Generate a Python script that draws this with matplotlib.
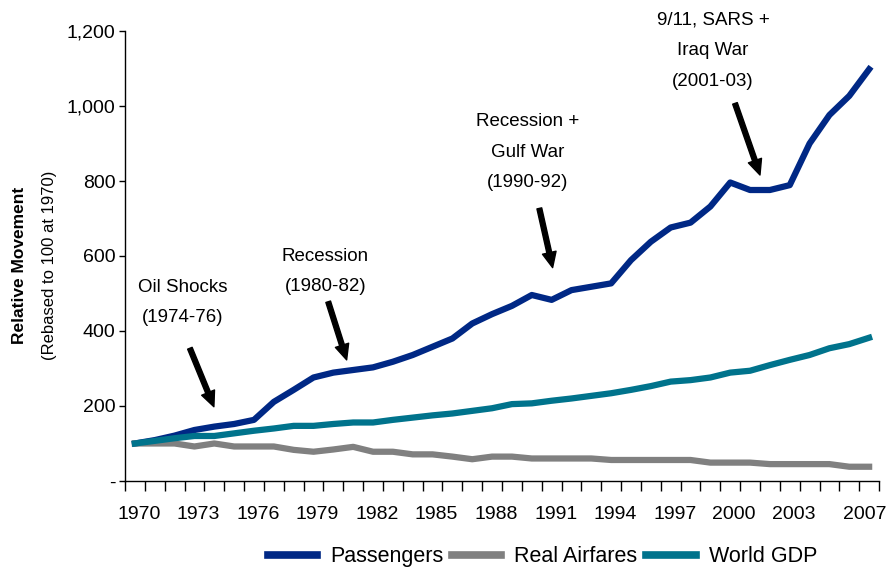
import numpy as np
import matplotlib
matplotlib.use('Agg')
import matplotlib.pyplot as plt
from matplotlib.transforms import ScaledTranslation

plt.rcParams['font.family'] = ['Liberation Sans', 'DejaVu Sans']

years = list(range(1970, 2008))
passengers = [100, 109, 121, 136, 145, 152, 163, 211, 243, 276,
              289, 296, 303, 318, 336, 358, 380, 420, 445, 467,
              496, 483, 509, 518, 527, 589, 638, 676, 689, 732,
              796, 776, 776, 789, 900, 976, 1027, 1098]
airfares = [100, 100, 100, 92, 100, 92, 92, 92, 83, 78,
            84, 91, 78, 78, 71, 71, 65, 58, 65, 65,
            60, 60, 60, 60, 56, 56, 56, 56, 56, 49,
            49, 49, 45, 45, 45, 45, 38, 38]
world_gdp = [100, 107, 114, 120, 120, 127, 134, 140, 147, 147,
             152, 156, 156, 163, 169, 175, 180, 187, 194, 205,
             207, 214, 220, 227, 234, 243, 253, 265, 269, 276,
             289, 294, 309, 323, 336, 354, 365, 382]

xtick_years = [1970, 1973, 1976, 1979, 1982, 1985, 1988, 1991, 1994, 1997, 2000, 2003, 2007]
ytick_vals = [0, 200, 400, 600, 800, 1000, 1200]
ytick_labels = ['-', '200', '400', '600', '800', '1,000', '1,200']

# (text, text x, text y, arrow tail, arrow head)
events = [
    ('Oil Shocks\n(1974-76)', 1972.42, 476, (1972.77, 354), (1973.98, 198)),
    ('Recession\n(1980-82)', 1979.6, 559, (1979.74, 478), (1980.67, 323)),
    ('Recession +\nGulf War\n(1990-92)', 1989.81, 877, (1990.38, 727), (1991.05, 569)),
    ('9/11, SARS +\nIraq War\n(2001-03)', 1999.13, 1147, (2000.24, 1007), (2001.5, 816)),
]

fig = plt.figure(figsize=(8.89, 5.68), dpi=100)
ax = fig.add_axes([0.1406, 0.1532, 0.8482, 0.7922])

ax.plot(years, passengers, color='#002885', lw=4.5, label='Passengers')
ax.plot(years, airfares, color='#808080', lw=4.5, label='Real Airfares')
ax.plot(years, world_gdp, color='#00738C', lw=4.5, label='World GDP')

ax.set_xlim(1969.5, 2007.5)
ax.set_ylim(0, 1200)
ax.set_yticks(ytick_vals)
ax.set_yticklabels(ytick_labels, fontsize=14)
ax.set_xticks(xtick_years)
ax.set_xticklabels([str(y) for y in xtick_years], fontsize=14)
ax.set_xticks(np.arange(1969.5, 2008.0, 1.0), minor=True)
ax.tick_params(axis='x', which='major', length=0, pad=18)
ax.tick_params(axis='x', which='minor', length=7, width=1, direction='out')
ax.tick_params(axis='y', length=4, width=1, pad=3)

# labels sit a little right of the category centre, except the last one
labels = ax.get_xticklabels()
for i, lab in enumerate(labels):
    dx = -4 if i == len(labels) - 1 else 4
    lab.set_transform(lab.get_transform() + ScaledTranslation(dx / 100, 0, fig.dpi_scale_trans))

for s in ['top', 'right']:
    ax.spines[s].set_visible(False)
ax.spines['left'].set_linewidth(1)
ax.spines['bottom'].set_linewidth(1)

for txt, tx, ty, tail, head in events:
    ax.text(tx, ty, txt, ha='center', va='center', fontsize=13.5, linespacing=2.05)
    ax.annotate('', xy=head, xytext=tail,
                arrowprops=dict(facecolor='black', edgecolor='black', width=3.5,
                                headwidth=10, headlength=11, shrink=0))

fig.text(0.022, 0.533, 'Relative Movement', rotation=90, ha='center', va='center',
         fontsize=12.5, fontweight='bold')
fig.text(0.056, 0.533, '(Rebased to 100 at 1970)', rotation=90, ha='center', va='center',
         fontsize=12)

fig.legend(loc='center', bbox_to_anchor=(0.61, 0.02), ncol=3, frameon=False,
           fontsize=15.5, handlelength=2.3, handletextpad=0.6, columnspacing=0.4)
for h in fig.legends[0].get_lines():
    h.set_linewidth(5.5)

plt.savefig('out.png', dpi=100)
